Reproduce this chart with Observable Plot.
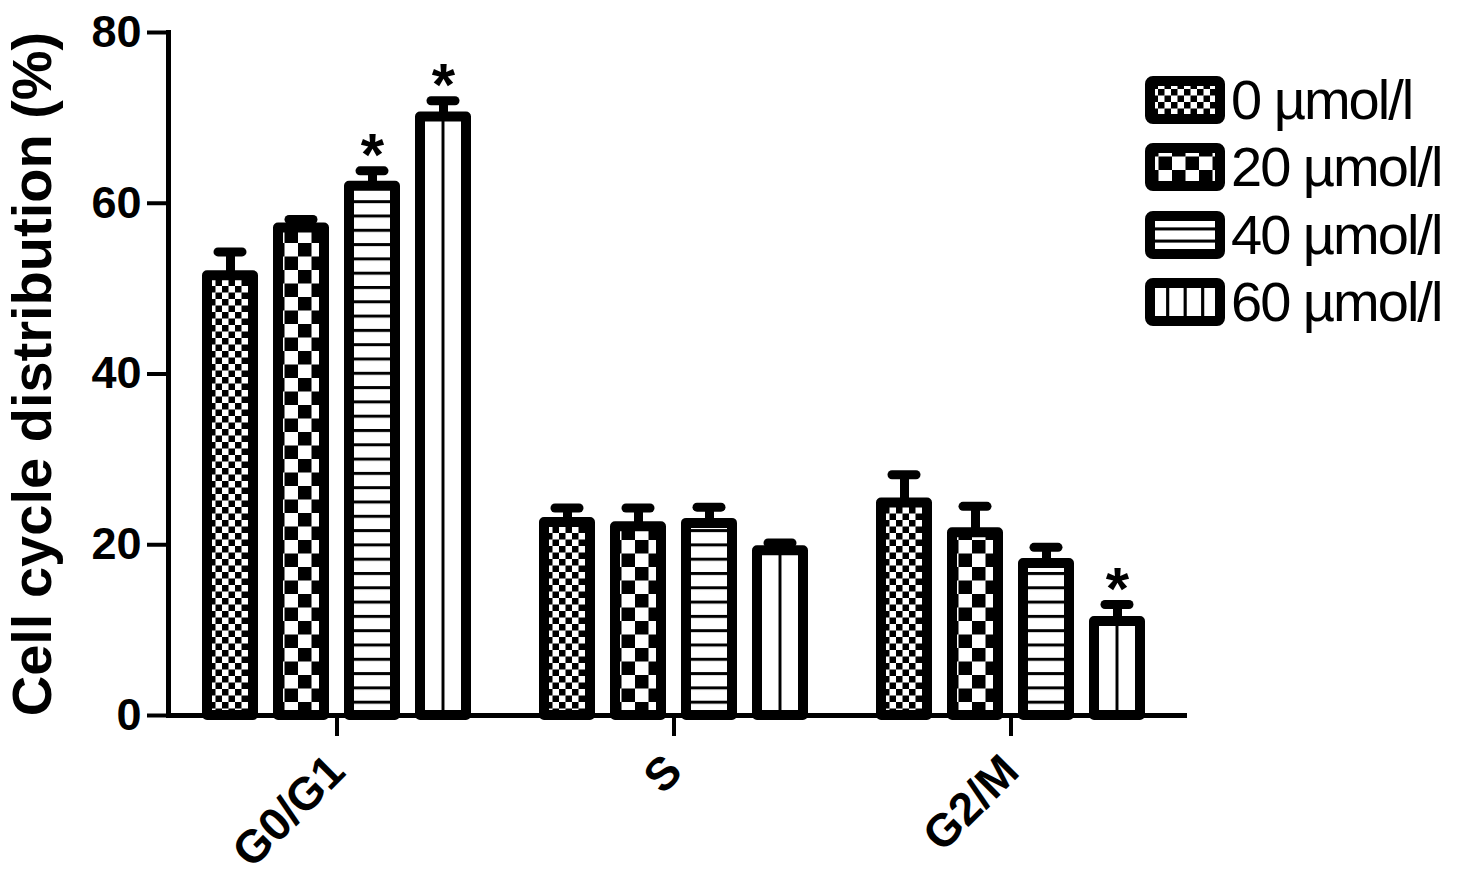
<!DOCTYPE html>
<html>
<head>
<meta charset="utf-8">
<script src="https://cdn.jsdelivr.net/npm/d3@7"></script>
<script src="https://cdn.jsdelivr.net/npm/@observablehq/plot@0.6"></script>
<style>
  html, body { margin: 0; padding: 0; background: #fff; }
  #wrap { position: relative; width: 1474px; height: 879px; font-family: "Liberation Sans", Arial, sans-serif; }
  #legend { position: absolute; left: 1145px; top: 66px; }
  .row { display: flex; align-items: center; height: 67.5px; }
  .row svg { display: block; }
  .row span { font-size: 56px; letter-spacing: -2px; margin-left: 6px; line-height: 48px; color: #000; }
</style>
</head>
<body>
<svg width="0" height="0" style="position:absolute">
  <defs>
    <pattern id="p0" patternUnits="userSpaceOnUse" width="13" height="13">
      <rect width="13" height="13" fill="white"/>
      <rect width="6.5" height="6.5" fill="black"/>
      <rect x="6.5" y="6.5" width="6.5" height="6.5" fill="black"/>
    </pattern>
    <pattern id="p1" patternUnits="userSpaceOnUse" width="27" height="27">
      <rect width="27" height="27" fill="white"/>
      <rect width="13.5" height="13.5" fill="black"/>
      <rect x="13.5" y="13.5" width="13.5" height="13.5" fill="black"/>
    </pattern>
    <pattern id="p2" patternUnits="userSpaceOnUse" width="20" height="14.3">
      <rect width="20" height="14.3" fill="white"/>
      <rect width="20" height="3" fill="black"/>
    </pattern>
    <pattern id="p3" patternUnits="objectBoundingBox" patternContentUnits="objectBoundingBox" width="1" height="1">
      <rect width="1" height="1" fill="white"/>
      <rect x="0.468" width="0.064" height="1" fill="black"/>
    </pattern>
    <pattern id="lp2" patternUnits="objectBoundingBox" patternContentUnits="objectBoundingBox" width="1" height="1">
      <rect width="1" height="1" fill="white"/>
      <rect y="0.3" width="1" height="0.08" fill="black"/>
      <rect y="0.62" width="1" height="0.08" fill="black"/>
    </pattern>
    <pattern id="lp3" patternUnits="objectBoundingBox" patternContentUnits="objectBoundingBox" width="1" height="1">
      <rect width="1" height="1" fill="white"/>
      <rect x="0.23" width="0.045" height="1" fill="black"/>
      <rect x="0.48" width="0.045" height="1" fill="black"/>
      <rect x="0.73" width="0.045" height="1" fill="black"/>
    </pattern>
  </defs>
</svg>
<div id="wrap">
  <div id="chart"></div>
  <div id="legend"></div>
</div>
<script>
// ---- data ----
const groups = ["G0/G1", "S", "G2/M"];
const concs = ["0 µmol/l", "20 µmol/l", "40 µmol/l", "60 µmol/l"];
const mean0  = [51.5, 22.6, 24.9];
const mean20 = [57.1, 22.1, 21.4];
const mean40 = [62.0, 22.5, 17.8];
const mean60 = [70.1, 19.3, 11.0];
const err0  = [2.8, 1.7, 3.3];
const err20 = [1.0, 2.2, 3.1];
const err40 = [1.8, 1.9, 1.9];
const err60 = [1.9, 0.9, 2.0];
const sigGroups = ["G0/G1", "G0/G1", "G2/M"];
const sigConcs = ["40 µmol/l", "60 µmol/l", "60 µmol/l"];
const yTicks = [0, 20, 40, 60, 80];
const yTitle = "Cell cycle distribution (%)";

const patterns = ["url(#p0)", "url(#p1)", "url(#p2)", "url(#p3)"];
const legendPatterns = ["url(#p0)", "url(#p1)", "url(#lp2)", "url(#lp3)"];

const means = [mean0, mean20, mean40, mean60];
const errs = [err0, err20, err40, err60];
const data = [];
concs.forEach((c, j) => groups.forEach((g, i) => {
  data.push({group: g, conc: c, mean: means[j][i], err: errs[j][i], top: means[j][i] + errs[j][i]});
}));
const stars = sigGroups.map((g, k) => data.find(d => d.group === g && d.conc === sigConcs[k]));

const chart = Plot.plot({
  width: 1474,
  height: 879,
  marginLeft: 167,
  marginRight: 294,
  marginTop: 32,
  marginBottom: 164,
  style: {fontFamily: "'Liberation Sans', Arial, sans-serif", color: "black", background: "white"},
  fx: {domain: groups, padding: 0, label: null},
  x: {domain: concs, paddingInner: 0.347, paddingOuter: 0.52, axis: null},
  y: {domain: [0, 80]},
  marks: [
    ...concs.map((c, j) => Plot.barY(data.filter(d => d.conc === c), {
      fx: "group", x: "conc", y: "mean",
      fill: patterns[j], stroke: "black", strokeWidth: 10, strokeLinejoin: "round"
    })),
    Plot.ruleX(data, {fx: "group", x: "conc", y1: "mean", y2: "top", stroke: "black", strokeWidth: 9}),
    Plot.tickY(data, {fx: "group", x: "conc", y: "top", stroke: "black", strokeWidth: 9,
      strokeLinecap: "round", insetLeft: 11, insetRight: 11}),
    Plot.text(stars, {fx: "group", x: "conc", y: "top", text: () => "*",
      fontSize: 60, fontWeight: "bold", lineAnchor: "top", dy: -38}),
    Plot.ruleY([0], {stroke: "black", strokeWidth: 5, insetRight: -8}),
    Plot.frame({anchor: "left", facetAnchor: "left", stroke: "black", strokeWidth: 5}),
    Plot.axisY({ticks: yTicks, tickSize: 21, tickPadding: 6, strokeWidth: 4,
      fontSize: 45, fontWeight: "bold", label: null}),
    Plot.axisFx({anchor: "bottom", tickSize: 21, strokeWidth: 4, tickRotate: -45, tickPadding: 27,
      fontSize: 46, fontWeight: "bold", label: null}),
    Plot.text([{group: groups[0]}], {fx: "group", text: () => yTitle, frameAnchor: "left",
      textAnchor: "middle", rotate: -90, dx: -135, fontSize: 56, fontWeight: "bold"})
  ]
});
document.getElementById("chart").appendChild(chart);

// legend
const legend = document.getElementById("legend");
concs.forEach((c, j) => {
  const row = document.createElement("div");
  row.className = "row";
  row.innerHTML = `<svg width="80" height="48"><rect x="5" y="5" width="70" height="38" rx="3" fill="${legendPatterns[j]}" stroke="black" stroke-width="10" stroke-linejoin="round"/></svg><span>${c}</span>`;
  legend.appendChild(row);
});
</script>
</body>
</html>
